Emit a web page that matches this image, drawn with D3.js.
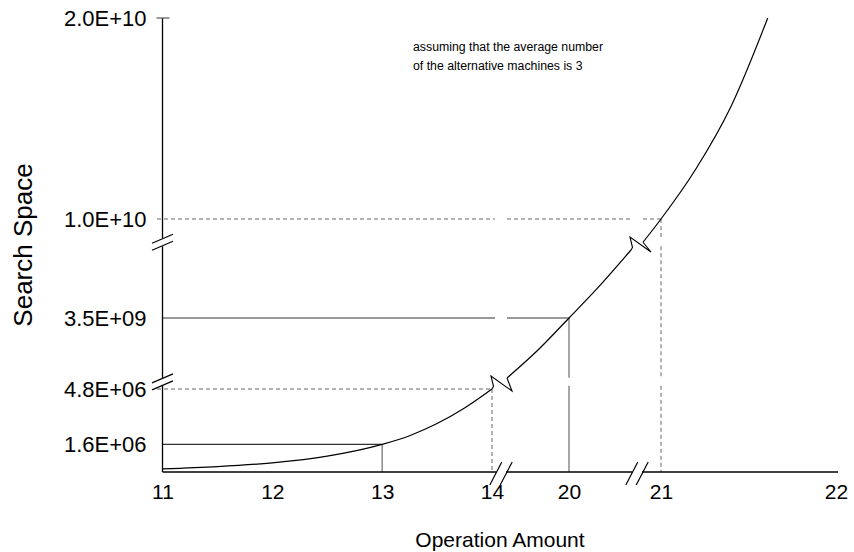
<!DOCTYPE html>
<html><head><meta charset="utf-8">
<script src="https://cdn.jsdelivr.net/npm/d3@7"></script>
<style>
body{margin:0;background:#fff}
svg{display:block}
text{font-family:"Liberation Sans",Arial,Helvetica,sans-serif;fill:#000}
</style>
</head><body>
<svg id="c" width="854" height="552"></svg>
<script>
// ---------- data ----------
const xTickValues = [11, 12, 13, 14, 20, 21, 22];
const yTickValues = [1.6e6, 4.8e6, 3.5e9, 1.0e10, 2.0e10];
const yTickLabels = ["1.6E+06", "4.8E+06", "3.5E+09", "1.0E+10", "2.0E+10"];

const curveLowX  = [11, 11.5, 12, 12.5, 13, 13.25, 13.5, 13.75, 14];
const curveLowY  = [0.18e6, 0.31e6, 0.53e6, 0.92e6, 1.6e6, 2.1e6, 2.8e6, 3.7e6, 4.8e6];
const curveMidX  = [19.5, 19.75, 20, 20.25, 20.5];
const curveMidY  = [2.0e9, 2.7e9, 3.5e9, 4.7e9, 6.0e9];
const curveHighX = [20.7, 21, 21.2, 21.4, 21.61];
const curveHighY = [7.0e9, 1.0e10, 1.25e10, 1.56e10, 2.0e10];

const refX = [13, 14, 20, 21];
const refY = [1.6e6, 4.8e6, 3.5e9, 1.0e10];
const refDashed = [false, true, false, true];

const xBreaks = [17.3, 20.6];
const yBreaks = [1.3e9, 7.0e9];

const noteLines = ["assuming that the average number", "of the alternative machines is 3"];
const xTitle = "Operation Amount";
const yTitle = "Search Space";

// ---------- scales (piecewise, broken axes) ----------
const x = d3.scaleLinear()
  .domain([11, 14, 19.5, 20, 20.5, 21, 22])
  .range([162.5, 492, 507, 569, 631, 661, 836]);
const y = d3.scaleLinear()
  .domain([0, 4.8e6, 2.0e9, 3.5e9, 6.0e9, 1.0e10, 2.0e10])
  .range([472, 389, 378, 318, 250, 219, 18]);

const svg = d3.select("#c");
const X0 = x(11), Y0 = y(0), XEND = 838, YTOP = y(2.0e10);
const xbPix = xBreaks.map(x), ybPix = yBreaks.map(y);

function splitSpan(a, b, breaks, half) {
  const lo = Math.min(a, b), hi = Math.max(a, b);
  const bs = breaks.filter(p => p > lo && p < hi).sort((m, n) => m - n);
  const out = []; let s = lo;
  bs.forEach(p => { out.push([s, p - half]); s = p + half; });
  out.push([s, hi]);
  return out;
}

// ---------- reference lines ----------
const gRef = svg.append("g");
refX.forEach((xv, i) => {
  const px = x(xv), py = y(refY[i]);
  const dashed = refDashed[i];
  const x0 = dashed ? X0 - 5.5 : X0;
  splitSpan(x0, px, xbPix, 6).forEach(([a, b]) => {
    gRef.append("line").attr("x1", a).attr("x2", b).attr("y1", py).attr("y2", py)
      .attr("stroke", dashed ? "#666" : "#333").attr("stroke-width", dashed ? 1 : 1.1)
      .attr("stroke-dasharray", dashed ? "4,3" : null);
  });
  splitSpan(py, Y0, ybPix, 4).forEach(([a, b]) => {
    gRef.append("line").attr("x1", px).attr("x2", px).attr("y1", a).attr("y2", b)
      .attr("stroke", dashed ? "#666" : "#777").attr("stroke-width", dashed ? 1 : 1.3)
      .attr("stroke-dasharray", dashed ? "4,3" : null);
  });
});

// ---------- curve ----------
const line = d3.line().x(d => x(d[0])).y(d => y(d[1])).curve(d3.curveMonotoneX);
const segs = [
  d3.zip(curveLowX, curveLowY),
  d3.zip(curveMidX, curveMidY),
  d3.zip(curveHighX, curveHighY)
];
segs.forEach(s => svg.append("path").attr("d", line(s))
  .attr("fill", "none").attr("stroke", "#000").attr("stroke-width", 1.2));

const zz = d3.line();
[[segs[0], segs[1]], [segs[1], segs[2]]].forEach(([a, b]) => {
  const L = a[a.length - 1], M = b[0];
  const lx = x(L[0]), ly = y(L[1]);
  svg.append("path")
    .attr("d", zz([[lx, ly], [lx + 1.5, ly - 2.5], [lx - 1, ly - 13], [lx + 20, ly + 2], [x(M[0]), y(M[1])]]))
    .attr("fill", "none").attr("stroke", "#000").attr("stroke-width", 1.1);
});

// ---------- axes lines with breaks ----------
const gAx = svg.append("g");
splitSpan(YTOP, Y0, ybPix, 4).forEach(([a, b]) => {
  gAx.append("line").attr("x1", X0).attr("x2", X0).attr("y1", a).attr("y2", b)
    .attr("stroke", "#000").attr("stroke-width", 1.3);
});
splitSpan(X0, XEND, xbPix, 5).forEach(([a, b]) => {
  gAx.append("line").attr("x1", a).attr("x2", b).attr("y1", Y0).attr("y2", Y0)
    .attr("stroke", "#000").attr("stroke-width", 1.6);
});
gAx.append("line").attr("x1", X0 - 6).attr("x2", X0 + 7).attr("y1", YTOP).attr("y2", YTOP)
  .attr("stroke", "#555").attr("stroke-width", 1.2);
ybPix.forEach(p => [-3.5, 3.5].forEach(o => {
  gAx.append("line").attr("x1", X0 - 10.5).attr("y1", p + o + 4.5)
    .attr("x2", X0 + 10.5).attr("y2", p + o - 4.5).attr("stroke", "#000").attr("stroke-width", 1.2);
}));
xbPix.forEach(p => [-5.2, 5.2].forEach(o => {
  gAx.append("line").attr("x1", p + o - 6).attr("y1", Y0 + 13)
    .attr("x2", p + o + 6).attr("y2", Y0 - 10).attr("stroke", "#000").attr("stroke-width", 1.2);
}));

// ---------- tick labels via d3 axes ----------
const xAxis = svg.append("g").attr("transform", `translate(0,${Y0})`)
  .call(d3.axisBottom(x).tickValues(xTickValues).tickSize(0).tickPadding(12).tickFormat(d3.format("d")));
xAxis.select(".domain").remove();
xAxis.selectAll("text").style("font-size", "21px").attr("fill", "#000");

const yAxis = svg.append("g").attr("transform", `translate(${X0},0)`)
  .call(d3.axisLeft(y).tickValues(yTickValues).tickSize(0).tickPadding(16)
    .tickFormat((d, i) => yTickLabels[i]));
yAxis.select(".domain").remove();
yAxis.selectAll("text").style("font-size", "22px").attr("fill", "#000");

// ---------- titles & note ----------
svg.append("text").attr("x", 500).attr("y", 547).attr("text-anchor", "middle")
  .style("font-size", "21px").text(xTitle);
svg.append("text").attr("transform", "translate(32,245) rotate(-90)").attr("text-anchor", "middle")
  .style("font-size", "26px").text(yTitle);
svg.append("text").attr("x", 413).attr("y", 51).style("font-size", "12.3px")
  .selectAll("tspan").data(noteLines).join("tspan")
  .attr("x", 413).attr("dy", (d, i) => i ? 19 : 0).text(d => d);
</script>
</body></html>
